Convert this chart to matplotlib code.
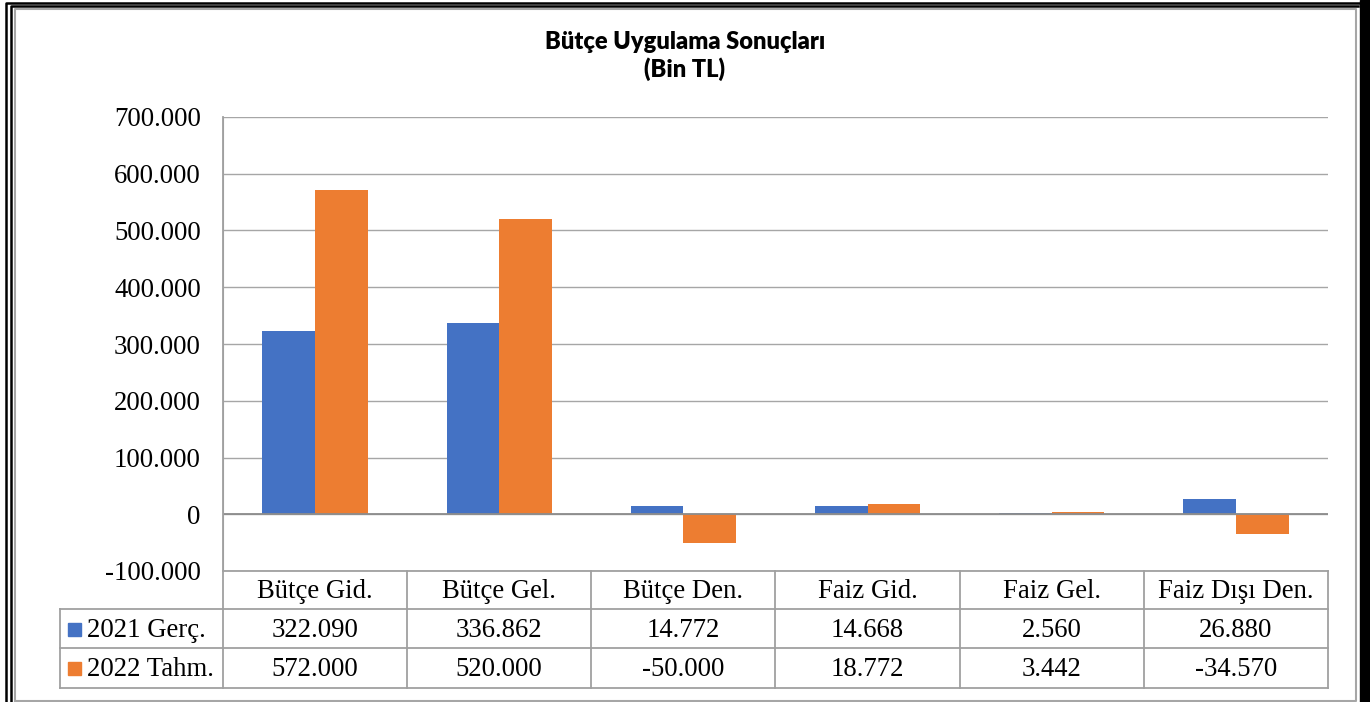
import matplotlib.pyplot as plt
from matplotlib.lines import Line2D
from matplotlib.patches import Rectangle

categories = ['Bütçe Gid.', 'Bütçe Gel.', 'Bütçe Den.', 'Faiz Gid.', 'Faiz Gel.', 'Faiz Dışı Den.']
series_names = ['2021 Gerç.', '2022 Tahm.']
values_2021 = [322090, 336862, 14772, 14668, 2560, 26880]
values_2022 = [572000, 520000, -50000, 18772, 3442, -34570]
colors = ['#4472C4', '#ED7D31']
yticks = [-100000, 0, 100000, 200000, 300000, 400000, 500000, 600000, 700000]

W, H = 1370, 702
FS = 19.3


def tr(v):
    return f'{v:,.0f}'.replace(',', '.')


def fx(x):
    return x / W


def fy(y):
    return 1 - y / H


plt.rcParams['font.family'] = ['Liberation Serif', 'DejaVu Serif']
fig = plt.figure(figsize=(W / 100, H / 100), dpi=100)

# plot area in pixels: left 223, right 1328, top 117, bottom 571
ax = fig.add_axes([fx(223), fy(571), fx(1328) - fx(223), fy(117) - fy(571)])
n = len(categories)
x = list(range(n))
bw = 1 / 3.5
ax.bar([i - bw / 2 for i in x], values_2021, bw, color=colors[0], zorder=3)
ax.bar([i + bw / 2 for i in x], values_2022, bw, color=colors[1], zorder=3)
ax.set_xlim(-0.5, n - 0.5)
ax.set_ylim(-100000, 700000)
ax.set_yticks(yticks)
ax.set_yticklabels([tr(v) for v in yticks], fontsize=FS)
ax.tick_params(axis='y', length=0, pad=16)
ax.set_xticks([])
ax.grid(axis='y', color='#A6A6A6', lw=1, zorder=0)
ax.axhline(0, color='#8C8C8C', lw=1.3, zorder=4)
for s in ['top', 'right', 'bottom']:
    ax.spines[s].set_visible(False)
ax.spines['left'].set_color('#A6A6A6')

# data table below the plot area
grid_c = '#A0A0A0'
rows_y = [571, 609, 648, 688]
col_x = [223 + (1328 - 223) * i / n for i in range(n + 1)]
lines = []
lines.append(([223, 1328], [rows_y[0]] * 2))
for y in rows_y[1:]:
    lines.append(([60, 1328], [y] * 2))
lines.append(([60, 60], [rows_y[1], rows_y[3]]))
lines.append(([223, 223], [117, rows_y[3]]))
for cx in col_x[1:]:
    lines.append(([cx, cx], [rows_y[0], rows_y[3]]))
for xs, ys in lines:
    fig.add_artist(Line2D([fx(v) for v in xs], [fy(v) for v in ys], color=grid_c, lw=1.3))

for i, c in enumerate(categories):
    cx = (col_x[i] + col_x[i + 1]) / 2
    fig.text(fx(cx), fy((rows_y[0] + rows_y[1]) / 2 + 2), c, ha='center', va='center', fontsize=FS)
    for r, vals in enumerate([values_2021, values_2022]):
        fig.text(fx(cx), fy((rows_y[r + 1] + rows_y[r + 2]) / 2 + 2), tr(vals[i]),
                 ha='center', va='center', fontsize=FS)

for r, name in enumerate(series_names):
    yc = (rows_y[r + 1] + rows_y[r + 2]) / 2
    fig.add_artist(Rectangle((fx(68), fy(yc + 7)), fx(13), 13 / H, color=colors[r]))
    fig.text(fx(87), fy(yc + 2), name, ha='left', va='center', fontsize=FS)

# title
fig.text(0.5, fy(42), 'Bütçe Uygulama Sonuçları', ha='center', va='center',
         fontsize=17, fontweight='heavy', family=['Lato', 'DejaVu Sans'])
fig.text(0.5, fy(69), '(Bin TL)', ha='center', va='center',
         fontsize=17, fontweight='heavy', family=['Lato', 'DejaVu Sans'])

# frame around the picture
fig.add_artist(Line2D([fx(6), fx(6), fx(1370)], [fy(702), fy(3), fy(3)], color='black', lw=1.8))
fig.add_artist(Line2D([fx(11), fx(11), fx(1358)], [fy(702), fy(6), fy(6)], color='black', lw=1.8))
fig.add_artist(Line2D([fx(15), fx(15), fx(1356), fx(1356), fx(15)],
                      [fy(701), fy(9), fy(9), fy(701), fy(701)], color='#A6A6A6', lw=1.5))
fig.add_artist(Rectangle((fx(1360), 0), fx(10), 1, color='black'))

fig.savefig('out.png', dpi=100)
